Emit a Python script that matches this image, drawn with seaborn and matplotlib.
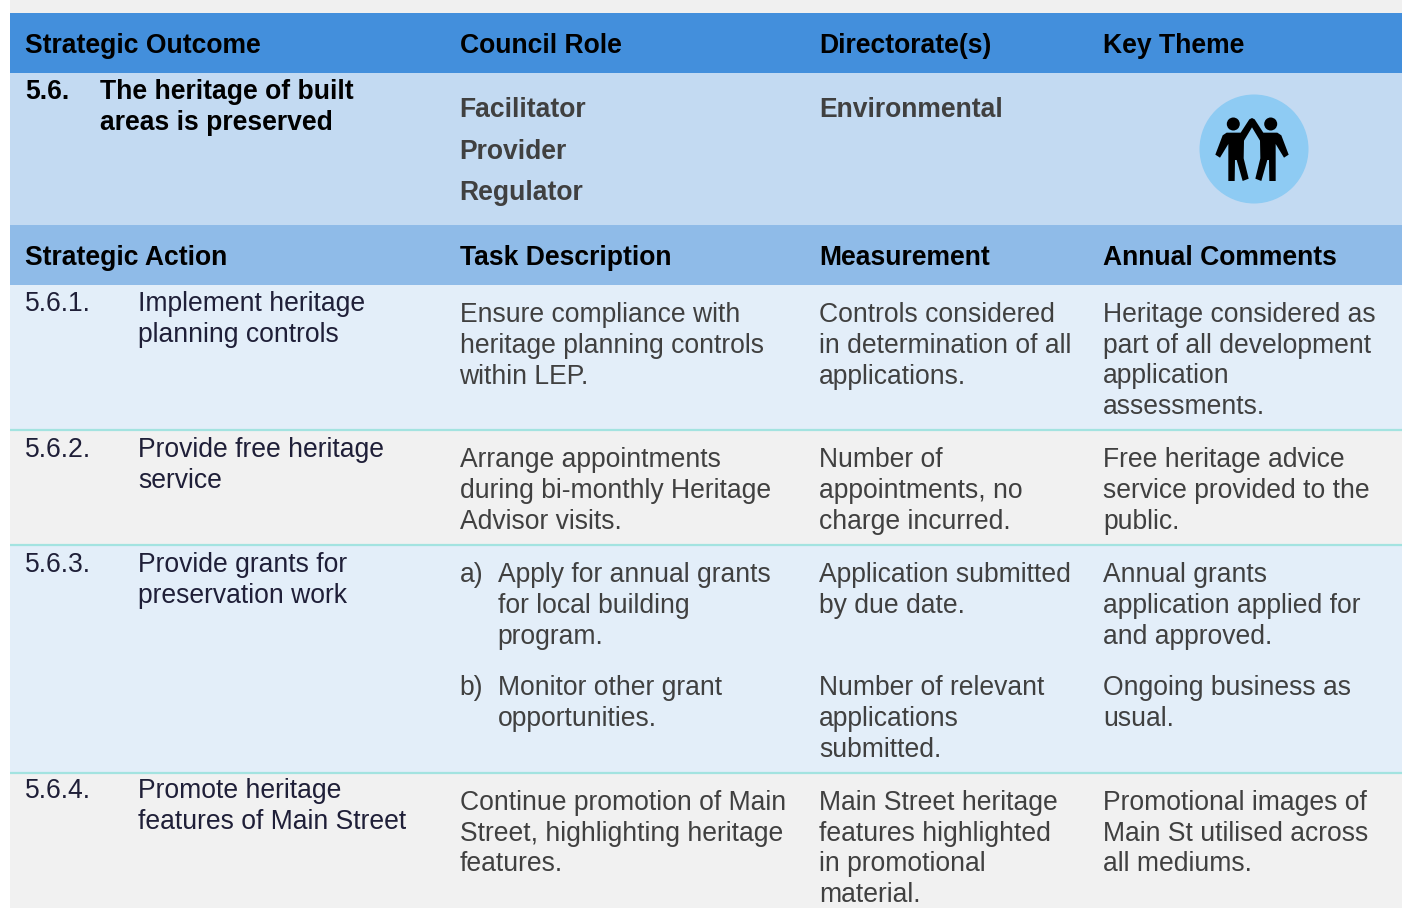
import matplotlib
matplotlib.use("Agg")
import matplotlib.pyplot as plt
from matplotlib.patches import Circle, Polygon
import seaborn as sns

# ---- table content ----
header_top = ["Strategic Outcome", "Council Role", "Directorate(s)", "Key Theme"]
header_mid = ["Strategic Action", "Task Description", "Measurement", "Annual Comments"]
outcome_num = "5.6."
outcome_lines = ["The heritage of built", "areas is preserved"]
roles = ["Facilitator", "Provider", "Regulator"]
directorate = "Environmental"

action_nums = ["5.6.1.", "5.6.2.", "5.6.3.", "5.6.4."]
actions = [["Implement heritage", "planning controls"],
           ["Provide free heritage", "service"],
           ["Provide grants for", "preservation work"],
           ["Promote heritage", "features of Main Street"]]
tasks = [["Ensure compliance with", "heritage planning controls", "within LEP."],
         ["Arrange appointments", "during bi-monthly Heritage", "Advisor visits."],
         ["Continue promotion of Main", "Street, highlighting heritage", "features."]]
task_a = ["Apply for annual grants", "for local building", "program."]
task_b = ["Monitor other grant", "opportunities."]
measures = [["Controls considered", "in determination of all", "applications."],
            ["Number of", "appointments, no", "charge incurred."],
            ["Application submitted", "by due date."],
            ["Number of relevant", "applications", "submitted."],
            ["Main Street heritage", "features highlighted", "in promotional", "material."]]
comments = [["Heritage considered as", "part of all development", "application", "assessments."],
            ["Free heritage advice", "service provided to the", "public."],
            ["Annual grants", "application applied for", "and approved."],
            ["Ongoing business as", "usual."],
            ["Promotional images of", "Main St utilised across", "all mediums."]]

# ---- layout ----
sns.set_theme(style="white")
plt.rcParams["font.family"] = ["Liberation Sans", "DejaVu Sans"]
fig = plt.figure(figsize=(14.02, 9.08), dpi=100, facecolor="white")
ax = fig.add_axes([0, 0, 1, 1])
ax.set_xlim(0, 1402)
ax.set_ylim(908, 0)
ax.axis("off")
sns.despine(ax=ax, left=True, bottom=True)

bands = [(0, 13, "#f0f0f0"), (13, 73, "#438fdc"), (73, 225, "#c3daf2"),
         (225, 285, "#8fbbe8"), (285, 430, "#e3eef9"), (430, 545, "#f1f1f1"),
         (545, 773, "#e3eef9"), (773, 908, "#f1f1f1")]
for y0, y1, c in bands:
    ax.fill_between([10, 1402], y0, y1, color=c, lw=0, zorder=0)
for y in (430, 545, 773):
    ax.plot([10, 1402], [y, y], color="#a3e3e0", lw=1.6, zorder=1, solid_capstyle="butt")

X0, X1, XT, XTI, XM, XC = 25, 138, 459.5, 497.5, 819, 1103
FS = 19.1
BODY = "#404040"
NAVY = "#1f1f38"


def put(x, ys, lines, color=BODY, weight="normal"):
    for y, s in zip(ys, lines):
        ax.text(x, y, s, fontsize=FS, color=color, weight=weight, va="baseline", ha="left")


for x, a, b in zip((X0, XT, XM, XC), header_top, header_mid):
    put(x, [53], [a], "#000000", "bold")
    put(x, [265], [b], "#000000", "bold")

put(X0, [99], [outcome_num], "#000000", "bold")
put(100, [99, 130], outcome_lines, "#000000", "bold")
put(XT, [117, 159, 200], roles, BODY, "bold")
put(XM, [117], [directorate], BODY, "bold")

for num, act, y in zip(action_nums, actions, (311, 457, 572, 798)):
    put(X0, [y], [num], NAVY)
    put(X1, [y, y + 31], act, NAVY)

put(XT, [322, 353, 384], tasks[0])
put(XT, [467, 498, 529], tasks[1])
put(XT, [582], ["a)"])
put(XTI, [582, 613, 644], task_a)
put(XT, [695], ["b)"])
put(XTI, [695, 726], task_b)
put(XT, [810, 841, 871], tasks[2])

put(XM, [322, 353, 384], measures[0])
put(XM, [467, 498, 529], measures[1])
put(XM, [582, 613], measures[2])
put(XM, [695, 726, 757], measures[3])
put(XM, [810, 841, 871, 902], measures[4])

put(XC, [322, 353, 383, 414], comments[0])
put(XC, [467, 498, 529], comments[1])
put(XC, [582, 613, 644], comments[2])
put(XC, [695, 726], comments[3])
put(XC, [810, 841, 871], comments[4])

# ---- key theme badge ----
ax.add_patch(Circle((1254, 149), 54.5, color="#8ecbf3", lw=0, zorder=2))
shape = [(140, 158), (182, 158), (208, 118), (216, 114), (216, 142), (192, 182), (191, 235),
         (206, 296), (188, 303), (170, 240), (165, 240), (164, 303), (145, 303), (145, 192),
         (120, 233), (106, 224), (128, 166)]
for mirror in (False, True):
    pts = [(1180 + (432 - px if mirror else px) / 3, 80 + py / 3) for px, py in shape]
    ax.add_patch(Polygon(pts, closed=True, color="black", lw=0, zorder=3))
for cx in (1233.3, 1270.7):
    ax.add_patch(Circle((cx, 124), 6.5, color="black", lw=0, zorder=3))

fig.savefig("out.png", dpi=100, facecolor="white")
